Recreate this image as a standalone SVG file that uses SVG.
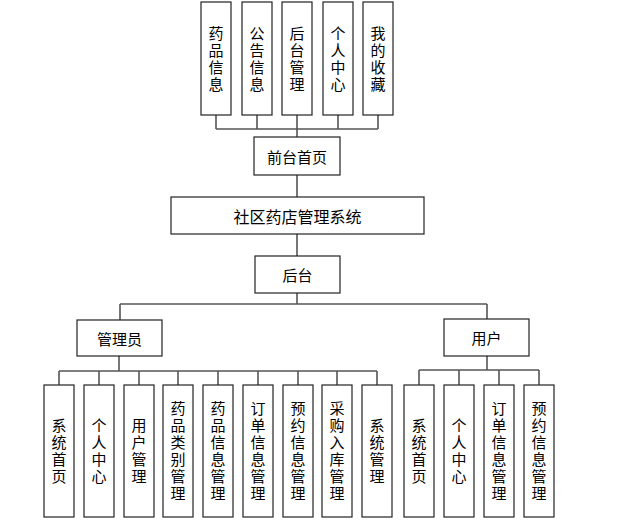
<svg xmlns="http://www.w3.org/2000/svg" width="619" height="522" viewBox="0 0 619 522">
<style>
.box{fill:#fff;stroke:#222;stroke-width:1.2}
.t{font-family:"Noto Sans CJK SC","Liberation Sans",sans-serif;font-size:15px;fill:#000;text-anchor:middle;dominant-baseline:central}
.v{font-family:"Noto Sans CJK SC","Liberation Sans",sans-serif;font-size:15px;fill:#000;text-anchor:middle;writing-mode:vertical-rl;letter-spacing:2px}
.c{fill:none;stroke:#555;stroke-width:1.6}
</style>
<rect width="619" height="522" fill="#fff"/>
<g id="connectors" class="c">
<path d="M216 115V129M257 115V129M297 115V129M338 115V129M378 115V129M216 129H378M297 129V137"/>
<path d="M297 175V197M297 234V256M297 293V304M120 304H487M120 304V320M487 304V319"/>
<path d="M119 356V371M59 371H377M59 371V385M99 371V385M139 371V385M178 371V385M218 371V385M258 371V385M298 371V385M337 371V385M377 371V385"/>
<path d="M487 356V370M419 370H539M419 370V385M459 370V385M499 370V385M539 370V385"/>
</g>
<g id="n_yp"><rect class="box" x="201" y="2" width="30" height="113"/><text class="v" x="216" y="59.5">药品信息</text></g>
<g id="n_gg"><rect class="box" x="242" y="2" width="30" height="113"/><text class="v" x="257" y="59.5">公告信息</text></g>
<g id="n_ht"><rect class="box" x="282" y="2" width="30" height="113"/><text class="v" x="297" y="59.5">后台管理</text></g>
<g id="n_gr"><rect class="box" x="323" y="2" width="30" height="113"/><text class="v" x="338" y="59.5">个人中心</text></g>
<g id="n_sc"><rect class="box" x="363" y="2" width="30" height="113"/><text class="v" x="378" y="59.5">我的收藏</text></g>
<g id="n_qt"><rect class="box" x="254" y="137" width="86" height="38"/><text class="t" x="297" y="156">前台首页</text></g>
<g id="n_root"><rect class="box" x="171" y="197" width="253" height="37"/><text class="t" x="297.5" y="215.5" style="font-size:16px">社区药店管理系统</text></g>
<g id="n_bt"><rect class="box" x="255" y="256" width="85" height="37"/><text class="t" x="297.5" y="274.5">后台</text></g>
<g id="n_admin"><rect class="box" x="77" y="320" width="85" height="36"/><text class="t" x="119.5" y="338">管理员</text></g>
<g id="n_user"><rect class="box" x="444" y="319" width="85" height="37"/><text class="t" x="486.5" y="337.5">用户</text></g>
<g id="a1"><rect class="box" x="44" y="385" width="30" height="132"/><text class="v" x="59" y="452">系统首页</text></g>
<g id="a2"><rect class="box" x="84" y="385" width="30" height="132"/><text class="v" x="99" y="452">个人中心</text></g>
<g id="a3"><rect class="box" x="124" y="385" width="30" height="132"/><text class="v" x="139" y="452">用户管理</text></g>
<g id="a4"><rect class="box" x="163" y="385" width="30" height="132"/><text class="v" x="178" y="452">药品类别管理</text></g>
<g id="a5"><rect class="box" x="203" y="385" width="30" height="132"/><text class="v" x="218" y="452">药品信息管理</text></g>
<g id="a6"><rect class="box" x="243" y="385" width="30" height="132"/><text class="v" x="258" y="452">订单信息管理</text></g>
<g id="a7"><rect class="box" x="283" y="385" width="30" height="132"/><text class="v" x="298" y="452">预约信息管理</text></g>
<g id="a8"><rect class="box" x="322" y="385" width="30" height="132"/><text class="v" x="337" y="452">采购入库管理</text></g>
<g id="a9"><rect class="box" x="362" y="385" width="30" height="132"/><text class="v" x="377" y="452">系统管理</text></g>
<g id="u1"><rect class="box" x="404" y="385" width="30" height="132"/><text class="v" x="419" y="452">系统首页</text></g>
<g id="u2"><rect class="box" x="444" y="385" width="30" height="132"/><text class="v" x="459" y="452">个人中心</text></g>
<g id="u3"><rect class="box" x="484" y="385" width="30" height="132"/><text class="v" x="499" y="452">订单信息管理</text></g>
<g id="u4"><rect class="box" x="524" y="385" width="30" height="132"/><text class="v" x="539" y="452">预约信息管理</text></g>
</svg>
